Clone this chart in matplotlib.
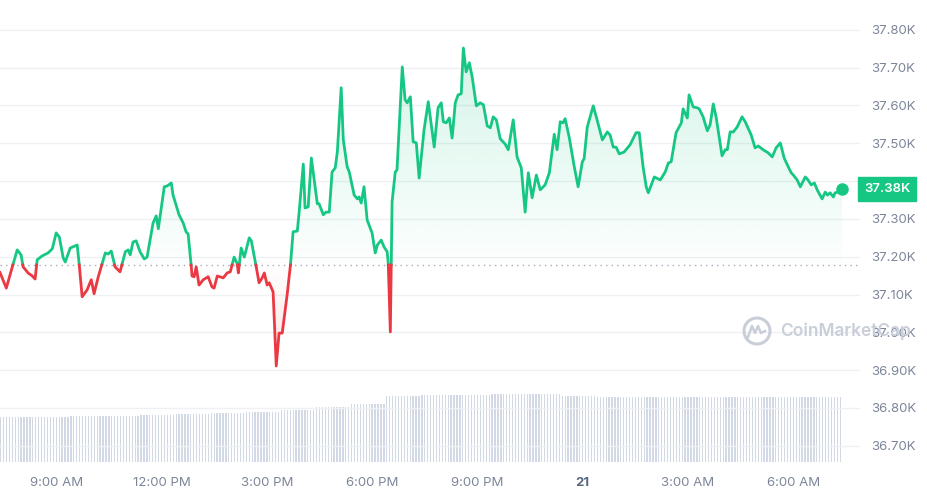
import numpy as np
import matplotlib.pyplot as plt
from matplotlib.patches import Ellipse
from matplotlib.lines import Line2D

plt.rcParams['font.family'] = ['Inter', 'DejaVu Sans']

# --- data: BTC price, hours since 00:00 on the 20th ---
hours = [7.40, 7.58, 7.75, 7.89, 8.00, 8.06, 8.20, 8.32, 8.40, 8.46, 8.60, 8.77, 8.89,
         9.00, 9.09, 9.20, 9.26, 9.40, 9.60, 9.66, 9.74, 9.88, 10.00, 10.08, 10.20,
         10.40, 10.48, 10.57, 10.68, 10.82, 10.97, 11.05, 11.11, 11.19, 11.28, 11.39,
         11.51, 11.59, 11.76, 11.85, 11.91, 12.08, 12.16, 12.28, 12.33, 12.50, 12.62,
         12.70, 12.76, 12.85, 12.87, 12.93, 12.99, 13.07, 13.19, 13.33, 13.44, 13.50,
         13.59, 13.76, 13.87, 13.96, 14.07, 14.16, 14.19, 14.27, 14.36, 14.50, 14.56,
         14.70, 14.78, 14.87, 14.93, 15.01, 15.07, 15.18, 15.27, 15.35, 15.44, 15.58,
         15.67, 15.75, 15.87, 15.92, 16.04, 16.09, 16.18, 16.27, 16.44, 16.49, 16.61,
         16.69, 16.78, 16.86, 16.95, 17.01, 17.12, 17.18, 17.29, 17.35, 17.49, 17.58,
         17.63, 17.69, 17.77, 17.86, 18.00, 18.09, 18.15, 18.26, 18.34, 18.43, 18.46,
         18.52, 18.57, 18.66, 18.71, 18.86, 18.94, 19.00, 19.09, 19.17, 19.26, 19.34,
         19.48, 19.60, 19.77, 19.88, 19.97, 20.03, 20.11, 20.20, 20.28, 20.37, 20.45,
         20.54, 20.60, 20.68, 20.77, 20.85, 20.97, 21.08, 21.17, 21.28, 21.37, 21.45,
         21.54, 21.65, 21.79, 21.88, 22.02, 22.13, 22.25, 22.36, 22.45, 22.56, 22.68,
         22.79, 22.93, 23.05, 23.19, 23.27, 23.36, 23.44, 23.50, 23.62, 23.76, 23.87,
         23.99, 24.04, 24.13, 24.30, 24.41, 24.56, 24.70, 24.78, 24.87, 24.95, 25.04,
         25.18, 25.35, 25.52, 25.61, 25.72, 25.81, 25.87, 26.04, 26.21, 26.35, 26.44,
         26.52, 26.66, 26.81, 26.86, 26.98, 27.03, 27.15, 27.26, 27.32, 27.43, 27.55,
         27.63, 27.72, 27.80, 27.97, 28.06, 28.12, 28.20, 28.29, 28.40, 28.54, 28.63,
         28.80, 28.91, 29.00, 29.14, 29.28, 29.40, 29.51, 29.63, 29.74, 29.83, 29.94,
         30.00, 30.11, 30.20, 30.34, 30.42, 30.51, 30.60, 30.68, 30.82, 30.91, 30.97,
         31.05, 31.14, 31.19, 31.28, 31.39]

price = [37158, 37117, 37173, 37218, 37205, 37173, 37157, 37149, 37141, 37192, 37202, 37210, 37221,
         37263, 37252, 37197, 37186, 37223, 37231, 37176, 37094, 37112, 37139, 37102, 37147,
         37210, 37207, 37215, 37173, 37160, 37213, 37218, 37205, 37239, 37242, 37213,
         37194, 37199, 37289, 37308, 37274, 37385, 37387, 37395, 37363, 37311, 37289,
         37266, 37260, 37173, 37149, 37147, 37173, 37125, 37139, 37147, 37120, 37117,
         37149, 37144, 37157, 37160, 37199, 37181, 37157, 37223, 37199, 37250, 37242,
         37173, 37131, 37144, 37157, 37125, 37131, 37107, 36911, 36998, 36998, 37099,
         37173, 37266, 37268, 37316, 37445, 37329, 37332, 37461, 37340, 37340, 37311,
         37318, 37318, 37424, 37435, 37477, 37647, 37509, 37438, 37424, 37363, 37353,
         37358, 37342, 37385, 37297, 37263, 37210, 37231, 37244, 37226, 37213, 37184,
         37001, 37345, 37424, 37430, 37702, 37615, 37607, 37623, 37504, 37501, 37408,
         37535, 37610, 37490, 37594, 37607, 37557, 37554, 37567, 37514, 37607, 37628,
         37631, 37752, 37689, 37713, 37676, 37599, 37607, 37602, 37546, 37541, 37570,
         37562, 37512, 37498, 37483, 37562, 37464, 37435, 37318, 37422, 37356, 37416,
         37377, 37390, 37422, 37524, 37483, 37557, 37554, 37565, 37514, 37438, 37385,
         37451, 37459, 37543, 37599, 37562, 37509, 37530, 37522, 37490, 37490, 37472,
         37477, 37496, 37528, 37528, 37438, 37385, 37369, 37411, 37403, 37424, 37448,
         37451, 37528, 37554, 37591, 37567, 37628, 37596, 37594, 37591, 37570, 37533,
         37549, 37604, 37570, 37467, 37483, 37483, 37530, 37530, 37543, 37570, 37557,
         37522, 37488, 37493, 37483, 37475, 37464, 37488, 37501, 37461, 37443, 37422,
         37416, 37403, 37385, 37411, 37403, 37390, 37395, 37377, 37353, 37371, 37363,
         37369, 37358, 37369, 37371, 37380]

base_price = 37178          # opening price (dotted reference line)
last_label = '37.38K'

# hourly volume (billions USD), one value per hour starting at 7:24
volume_hourly = [22.0, 22.0, 22.4, 22.4, 22.9, 23.4, 23.9, 24.4, 25.4, 26.8, 28.3, 32.2,
                 32.7, 32.7, 33.2, 33.2, 32.2, 31.7, 31.7, 31.7, 31.7, 31.7, 31.7, 31.7]

yticks = [36700, 36800, 36900, 37000, 37100, 37200, 37300, 37400, 37500, 37600, 37700, 37800]
xticks = [9, 12, 15, 18, 21, 24, 27, 30]
xlabels = ['9:00 AM', '12:00 PM', '3:00 PM', '6:00 PM', '9:00 PM', '21', '3:00 AM', '6:00 AM']

GREEN = '#16c784'
RED = '#ea3943'
GREY = '#7d8699'

W, H = 928, 495
fig = plt.figure(figsize=(W / 100, H / 100), dpi=100)

x0, x1 = 7.40, 31.90
# volume axes (bottom strip)
axv = fig.add_axes([0, (H - 462) / H, 860 / W, 82 / H])
vt = np.arange(len(volume_hourly) * 12) * (1 / 12) + hours[0]
vv = np.repeat(volume_hourly, 12)
keep = vt <= hours[-1]
axv.bar(vt[keep], vv[keep], width=(1 / 12) * 0.45, color='#d3d9e4', align='edge', linewidth=0)
axv.set_xlim(x0, x1)
axv.set_ylim(0, 40)
axv.axis('off')

# main price axes
ax = fig.add_axes([0, (H - 462) / H, 860 / W, 462 / H])
ax.patch.set_alpha(0)
ylo, yhi = 36657, 37879

t = np.array(hours)
p = np.array(price, dtype=float)

# insert baseline crossings so the two colours meet cleanly
tx, px = [t[0]], [p[0]]
for i in range(1, len(t)):
    a, b = p[i - 1] - base_price, p[i] - base_price
    if a * b < 0:
        f = a / (a - b)
        tx.append(t[i - 1] + f * (t[i] - t[i - 1]))
        px.append(base_price)
    tx.append(t[i])
    px.append(p[i])
tx, px = np.array(tx), np.array(px)


def gradient(ax, lo, hi, color, a_lo, a_hi, clip):
    rgba = np.zeros((200, 1, 4))
    c = plt.matplotlib.colors.to_rgb(color)
    rgba[..., :3] = c
    rgba[:, 0, 3] = np.linspace(a_lo, a_hi, 200)
    im = ax.imshow(rgba, extent=[tx[0], tx[-1], lo, hi], origin='lower',
                   aspect='auto', zorder=1, interpolation='bilinear')
    im.set_clip_path(clip.get_paths()[0], transform=ax.transData)


up = ax.fill_between(tx, base_price, np.maximum(px, base_price), color='none', lw=0)
dn = ax.fill_between(tx, base_price, np.minimum(px, base_price), color='none', lw=0)
gradient(ax, base_price, 37800, GREEN, 0.01, 0.20, up)
gradient(ax, 36900, base_price, RED, 0.16, 0.0, dn)

pg = np.where(px >= base_price, px, np.nan)
pr = np.where(px <= base_price, px, np.nan)
ax.plot(tx, pg, color=GREEN, lw=2, zorder=3, solid_joinstyle='round')
ax.plot(tx, pr, color=RED, lw=2, zorder=3, solid_joinstyle='round')
ax.plot([t[-1]], [p[-1]], 'o', color=GREEN, ms=8, zorder=4)

ax.axhline(base_price, color='#a6adbb', lw=1, ls=(0, (1, 3)), zorder=2)
for yv in yticks:
    ax.axhline(yv, color='#eef0f3', lw=1, zorder=0)

ax.set_xlim(x0, x1)
ax.set_ylim(ylo, yhi)
for s in ax.spines.values():
    s.set_visible(False)

ax.yaxis.tick_right()
ax.set_yticks(yticks)
ax.set_yticklabels([f'{v / 1000:.2f}K' for v in yticks])
ax.tick_params(axis='y', length=0, pad=8, labelsize=9.5, labelcolor=GREY)
ax.set_xticks(xticks)
ax.set_xticklabels(xlabels)
ax.tick_params(axis='x', length=0, pad=11, labelsize=9.5, labelcolor=GREY)
for lab in ax.get_xticklabels():
    if lab.get_text() == '21':
        lab.set_fontweight('bold')
        lab.set_color('#58667e')

# current price tag
fig.text(864 / W, 1 - 189 / H, last_label, color='white', fontsize=9.5, fontweight='semibold',
         va='center', ha='left',
         bbox=dict(boxstyle='square,pad=0.45', fc=GREEN, ec=GREEN))

# watermark
wm = '#c9ced8'
fig.add_artist(Ellipse((757 / W, 1 - 331 / H), 26 / W, 26 / H, fill=False, ec=wm, lw=2.2))
fig.add_artist(Line2D(np.array([748, 752, 755, 758, 761, 765]) / W,
                      1 - np.array([337, 326, 333, 326, 333, 331]) / H, color=wm, lw=1.8))
fig.text(780 / W, 1 - 331 / H, 'CoinMarketCap', color=wm, fontsize=12.5,
         fontweight='semibold', va='center', ha='left')

fig.savefig('out.png', dpi=100)
